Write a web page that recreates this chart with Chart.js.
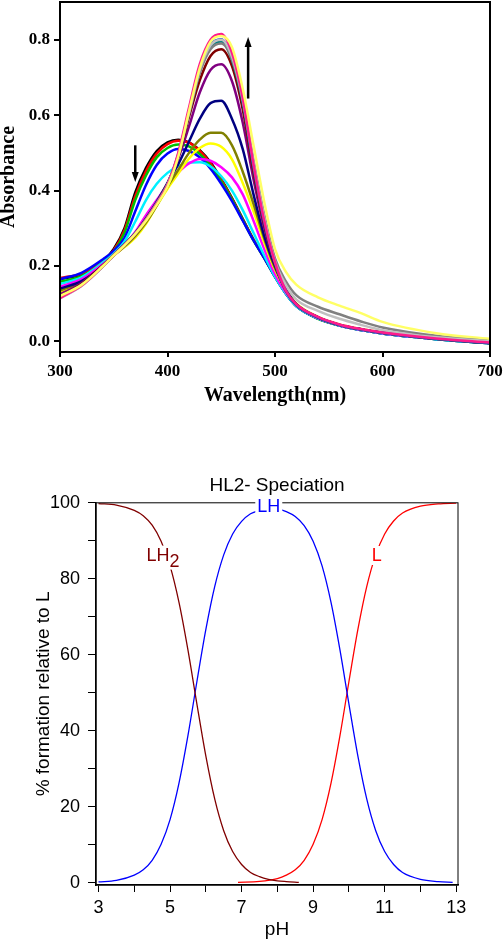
<!DOCTYPE html>
<html>
<head>
<meta charset="utf-8">
<script src="https://cdn.jsdelivr.net/npm/chart.js@4.4.0/dist/chart.umd.min.js"></script>
<style>
  body { margin: 0; background: #fff; }
  #uvvis { position: absolute; left: 0; top: 0; }
  #spec { position: absolute; left: 0; top: 440px; }
</style>
</head>
<body>
<canvas id="uvvis" width="503" height="430"></canvas>
<canvas id="spec" width="503" height="501"></canvas>
<script>
// ---- top panel: absorption spectra ----
var wavelengths = [300,320,340,350,360,370,380,390,400,410,420,430,440,450,460,470,480,490,500,510,520,540,560,580,600,650,700];
var wlTicks = [300, 400, 500, 600, 700];
var absTicks = [0, 0.2, 0.4, 0.6, 0.8];

var absBlack    = [0.165,0.178,0.212,0.245,0.300,0.395,0.460,0.505,0.528,0.535,0.528,0.507,0.475,0.430,0.380,0.325,0.270,0.222,0.172,0.128,0.094,0.061,0.042,0.030,0.021,0.006,-0.005];
var absRed      = [0.168,0.180,0.212,0.242,0.295,0.385,0.452,0.498,0.523,0.532,0.527,0.505,0.472,0.428,0.378,0.323,0.270,0.222,0.173,0.129,0.095,0.062,0.043,0.031,0.022,0.007,-0.004];
var absGreen    = [0.158,0.173,0.210,0.238,0.288,0.375,0.440,0.488,0.513,0.522,0.517,0.497,0.466,0.424,0.376,0.322,0.268,0.221,0.171,0.127,0.093,0.060,0.042,0.030,0.021,0.006,-0.005];
var absBlue     = [0.165,0.182,0.218,0.240,0.275,0.345,0.415,0.468,0.498,0.510,0.505,0.488,0.458,0.418,0.372,0.320,0.268,0.221,0.171,0.127,0.093,0.061,0.042,0.030,0.021,0.006,-0.005];
var absCyan     = [0.152,0.170,0.210,0.233,0.265,0.318,0.375,0.418,0.447,0.465,0.474,0.475,0.464,0.438,0.400,0.348,0.288,0.228,0.172,0.127,0.093,0.061,0.042,0.030,0.021,0.006,-0.005];
var absMagenta  = [0.145,0.165,0.205,0.228,0.255,0.290,0.335,0.375,0.415,0.448,0.472,0.484,0.479,0.462,0.435,0.390,0.320,0.245,0.178,0.130,0.095,0.062,0.043,0.031,0.022,0.007,-0.004];
var absYellow   = [0.130,0.155,0.200,0.228,0.250,0.275,0.312,0.360,0.405,0.445,0.485,0.513,0.525,0.516,0.483,0.420,0.345,0.262,0.190,0.138,0.100,0.065,0.045,0.033,0.024,0.008,-0.003];
var absOlive    = [0.135,0.158,0.200,0.228,0.252,0.280,0.315,0.360,0.410,0.455,0.500,0.535,0.553,0.553,0.520,0.450,0.365,0.272,0.195,0.139,0.099,0.064,0.044,0.032,0.023,0.007,-0.004];
var absNavy     = [0.140,0.160,0.200,0.228,0.255,0.285,0.325,0.370,0.420,0.470,0.530,0.590,0.632,0.638,0.590,0.510,0.390,0.280,0.200,0.138,0.098,0.064,0.044,0.032,0.023,0.007,-0.004];
var absPurple   = [0.125,0.155,0.203,0.230,0.258,0.288,0.327,0.370,0.420,0.485,0.570,0.660,0.720,0.735,0.690,0.580,0.430,0.300,0.205,0.136,0.097,0.064,0.044,0.032,0.023,0.007,-0.004];
var absWine     = [0.120,0.152,0.202,0.229,0.256,0.287,0.325,0.368,0.418,0.490,0.595,0.692,0.757,0.775,0.730,0.615,0.450,0.310,0.205,0.135,0.097,0.064,0.044,0.032,0.023,0.007,-0.004];
var absDarkCyan = [0.118,0.150,0.200,0.228,0.256,0.287,0.325,0.368,0.418,0.495,0.605,0.715,0.780,0.795,0.745,0.632,0.462,0.316,0.208,0.134,0.096,0.064,0.044,0.032,0.023,0.007,-0.004];
var absRoyal    = [0.117,0.149,0.200,0.228,0.256,0.286,0.324,0.367,0.417,0.497,0.610,0.722,0.786,0.801,0.752,0.638,0.466,0.318,0.209,0.135,0.097,0.064,0.044,0.032,0.023,0.007,-0.004];
var absGray     = [0.116,0.148,0.199,0.228,0.256,0.286,0.323,0.366,0.416,0.493,0.603,0.712,0.775,0.790,0.748,0.640,0.480,0.335,0.220,0.160,0.122,0.092,0.072,0.053,0.037,0.015,0.004];
var absSilver   = [0.114,0.147,0.199,0.228,0.255,0.285,0.322,0.365,0.415,0.496,0.608,0.720,0.785,0.800,0.755,0.642,0.475,0.328,0.212,0.150,0.111,0.081,0.060,0.044,0.030,0.011,0.001];
var absPink     = [0.115,0.148,0.200,0.228,0.255,0.285,0.322,0.365,0.415,0.500,0.620,0.735,0.800,0.815,0.765,0.645,0.470,0.320,0.210,0.135,0.098,0.065,0.045,0.033,0.024,0.008,-0.003];
var absLtYellow = [0.120,0.150,0.200,0.228,0.255,0.285,0.320,0.362,0.410,0.490,0.610,0.725,0.795,0.810,0.780,0.670,0.520,0.370,0.245,0.185,0.150,0.117,0.095,0.075,0.052,0.022,0.007];

// first one is drawn on top
var spectra = [
  [absLtYellow, "#ffff66"], [absPink, "#ff1a8c"], [absSilver, "#c0c0c0"], [absGray, "#808080"],
  [absRoyal, "#2050c0"], [absDarkCyan, "#008080"], [absWine, "#800000"], [absPurple, "#800080"],
  [absNavy, "#000080"], [absOlive, "#808000"], [absYellow, "#ffff00"], [absMagenta, "#ff00ff"],
  [absCyan, "#00f0ff"], [absBlue, "#0000ff"], [absGreen, "#00c000"], [absRed, "#ff0000"], [absBlack, "#000000"]
];

// ---- bottom panel: speciation ----
var phLH2 = [3,3.5,4,4.25,4.5,4.75,5,5.25,5.5,5.75,6,6.25,6.5,6.75,7,7.25,7.5,7.75,8,8.25,8.6];
var pctLH2 = [99.8,99.4,98.0,96.6,94.1,89.9,83.4,73.8,61.3,47.1,33.4,22.0,13.7,8.2,4.8,2.7,1.6,0.9,0.5,0.3,0.1];
var phLH = [3,3.5,4,4.25,4.5,4.75,5,5.25,5.5,5.75,6,6.25,6.5,6.75,7,7.25,7.5,7.75,8,8.25,8.5,8.75,9,9.25,9.5,9.75,10,10.25,10.5,10.75,11,11.25,11.5,12,12.5,12.9];
var pctLH = [0.2,0.6,2.0,3.4,5.9,10.1,16.6,26.2,38.7,52.9,66.6,78.0,86.3,91.8,95.1,97.1,98.0,98.5,98.4,97.7,96.4,94.0,89.9,83.4,73.8,61.3,47.1,33.4,22.0,13.7,8.2,4.8,2.7,0.9,0.3,0.1];
var phL = [6.9,7.5,8,8.25,8.5,8.75,9,9.25,9.5,9.75,10,10.25,10.5,10.75,11,11.25,11.5,12,12.5,13];
var pctL = [0.1,0.35,1.1,2.0,3.4,5.9,10.1,16.6,26.2,38.7,52.9,66.6,78.0,86.3,91.8,95.2,97.3,99.1,99.7,99.9];
var phTicks = [3,4,5,6,7,8,9,10,11,12,13];
var pctTicks = [0,10,20,30,40,50,60,70,80,90,100];

var serif = '"Liberation Serif", "Times New Roman", serif';
var sans = '"Liberation Sans", Arial, sans-serif';

function pts(xs, ys) {
  return xs.map(function(x, i) { return {x: x, y: ys[i]}; });
}

var framePlugin = {
  id: 'frame',
  afterDraw: function(chart, args, opts) {
    var a = chart.chartArea, ctx = chart.ctx;
    ctx.save();
    ctx.strokeStyle = '#000';
    ctx.lineWidth = opts.width || 1;
    ctx.strokeRect(a.left, a.top, a.right - a.left, a.bottom - a.top);
    ctx.restore();
  }
};

var arrowPlugin = {
  id: 'arrows',
  afterDatasetsDraw: function(chart, args, opts) {
    if (!opts.list) return;
    var ctx = chart.ctx, xs = chart.scales.x, ys = chart.scales.y;
    opts.list.forEach(function(a) {
      var x = xs.getPixelForValue(a.x);
      var y0 = ys.getPixelForValue(a.from), y1 = ys.getPixelForValue(a.to);
      var dir = y1 > y0 ? 1 : -1;
      ctx.save();
      ctx.strokeStyle = '#000';
      ctx.fillStyle = '#000';
      ctx.lineWidth = 2.5;
      ctx.beginPath();
      ctx.moveTo(x, y0);
      ctx.lineTo(x, y1 - dir * 8);
      ctx.stroke();
      ctx.beginPath();
      ctx.moveTo(x, y1);
      ctx.lineTo(x - 3.5, y1 - dir * 10);
      ctx.lineTo(x + 3.5, y1 - dir * 10);
      ctx.closePath();
      ctx.fill();
      ctx.restore();
    });
  }
};

var labelPlugin = {
  id: 'curveLabels',
  afterDraw: function(chart, args, opts) {
    if (!opts.list) return;
    var ctx = chart.ctx, xs = chart.scales.x, ys = chart.scales.y;
    opts.list.forEach(function(l) {
      var x = xs.getPixelForValue(l.x), y = ys.getPixelForValue(l.y);
      ctx.save();
      ctx.font = '18px ' + sans;
      var w = ctx.measureText(l.text).width;
      var ws = l.sub ? ctx.measureText(l.sub).width : 0;
      var total = w + ws;
      var left = x - total / 2;
      ctx.fillStyle = '#fff';
      ctx.fillRect(left - 2, y - 10, total + 4, l.sub ? 24 : 19);
      ctx.fillStyle = l.color;
      ctx.textBaseline = 'middle';
      ctx.textAlign = 'left';
      ctx.fillText(l.text, left, y);
      if (l.sub) ctx.fillText(l.sub, left + w, y + 6);
      ctx.restore();
    });
  }
};

new Chart(document.getElementById('uvvis'), {
  type: 'line',
  data: {
    datasets: spectra.map(function(s) {
      return {
        data: pts(wavelengths, s[0]),
        borderColor: s[1],
        borderWidth: 2.5,
        pointRadius: 0,
        fill: false,
        cubicInterpolationMode: 'monotone'
      };
    })
  },
  options: {
    responsive: false,
    animation: false,
    layout: { padding: { left: 0, right: 13, top: 2, bottom: 0 } },
    plugins: {
      legend: { display: false },
      tooltip: { enabled: false },
      frame: { width: 2 },
      arrows: { list: [ { x: 370, from: 0.52, to: 0.423 }, { x: 475, from: 0.644, to: 0.807 } ] }
    },
    scales: {
      x: {
        type: 'linear', min: 300, max: 700,
        afterBuildTicks: function(s) { s.ticks = wlTicks.map(function(v) { return {value: v}; }); },
        afterFit: function(s) { s.height = 78; s.paddingLeft = 0; s.paddingRight = 0; },
        grid: { drawOnChartArea: false, drawTicks: true, tickLength: 5, color: '#000', lineWidth: 2 },
        border: { display: true, color: '#000', width: 2 },
        ticks: { autoSkip: false, maxRotation: 0, padding: 4, color: '#000', font: { family: serif, size: 17, weight: 'bold' } },
        title: { display: true, text: 'Wavelength(nm)', color: '#000', padding: { top: 0, bottom: 22 }, font: { family: serif, size: 20, weight: 'bold' } }
      },
      y: {
        type: 'linear', min: -0.028, max: 0.9,
        afterBuildTicks: function(s) { s.ticks = absTicks.map(function(v) { return {value: v}; }); },
        afterFit: function(s) { s.width = 60; s.paddingTop = 0; s.paddingBottom = 0; },
        grid: { drawOnChartArea: false, drawTicks: true, tickLength: 6, color: '#000', lineWidth: 2 },
        border: { display: true, color: '#000', width: 2 },
        ticks: { autoSkip: false, padding: 4, color: '#000', font: { family: serif, size: 17, weight: 'bold' },
          callback: function(v) { return v.toFixed(1); } },
        title: { display: true, text: 'Absorbance', color: '#000', padding: { top: 0, bottom: 0 }, font: { family: serif, size: 20, weight: 'bold', lineHeight: 0.85 } }
      }
    }
  },
  plugins: [framePlugin, arrowPlugin]
});

function specLine(xs, ys, color) {
  return {
    data: pts(xs, ys),
    borderColor: color,
    borderWidth: 1.3,
    pointRadius: 0,
    fill: false,
    cubicInterpolationMode: 'monotone'
  };
}

new Chart(document.getElementById('spec'), {
  type: 'line',
  data: {
    datasets: [
      specLine(phLH2, pctLH2, '#800000'),
      specLine(phLH, pctLH, '#0000ff'),
      specLine(phL, pctL, '#ff0000')
    ]
  },
  options: {
    responsive: false,
    animation: false,
    layout: { padding: { left: 0, right: 45, top: 0, bottom: 0 } },
    plugins: {
      legend: { display: false },
      tooltip: { enabled: false },
      title: { display: true, fullSize: false, text: 'HL2- Speciation', color: '#000', padding: { top: 34, bottom: 6 }, font: { family: sans, size: 19, weight: 'normal' } },
      frame: { width: 1 },
      curveLabels: { list: [
        { text: 'LH', sub: '2', x: 4.8, y: 86.1, color: '#800000' },
        { text: 'LH', x: 7.76, y: 98.8, color: '#0000ff' },
        { text: 'L', x: 10.78, y: 86, color: '#ff0000' }
      ] }
    },
    scales: {
      x: {
        type: 'linear', min: 2.93, max: 13.05,
        afterBuildTicks: function(s) { s.ticks = phTicks.map(function(v) { return {value: v}; }); },
        afterFit: function(s) { s.height = 56; s.paddingLeft = 0; s.paddingRight = 0; },
        grid: { drawOnChartArea: false, drawTicks: true, tickLength: 7, color: '#000', lineWidth: 1 },
        border: { display: true, color: '#000', width: 1.5 },
        ticks: { autoSkip: false, maxRotation: 0, padding: 5, color: '#000', font: { family: sans, size: 18 },
          callback: function(v) { return v % 2 === 1 ? String(v) : ''; } },
        title: { display: true, text: 'pH', color: '#000', padding: { top: 0, bottom: 0 }, font: { family: sans, size: 19 } }
      },
      y: {
        type: 'linear', min: -0.6, max: 100,
        afterBuildTicks: function(s) { s.ticks = pctTicks.map(function(v) { return {value: v}; }); },
        afterFit: function(s) { s.width = 96; s.paddingTop = 0; s.paddingBottom = 0; },
        grid: { drawOnChartArea: false, drawTicks: true, tickLength: 8, color: '#000', lineWidth: 1 },
        border: { display: true, color: '#000', width: 1.5 },
        ticks: { autoSkip: false, padding: 8, color: '#000', font: { family: sans, size: 18 },
          callback: function(v) { return v % 20 === 0 ? String(v) : ''; } },
        title: { display: true, text: '% formation relative to L', color: '#000', padding: { top: 32, bottom: 0 }, font: { family: sans, size: 19 } }
      }
    }
  },
  plugins: [framePlugin, labelPlugin]
});
</script>
</body>
</html>
